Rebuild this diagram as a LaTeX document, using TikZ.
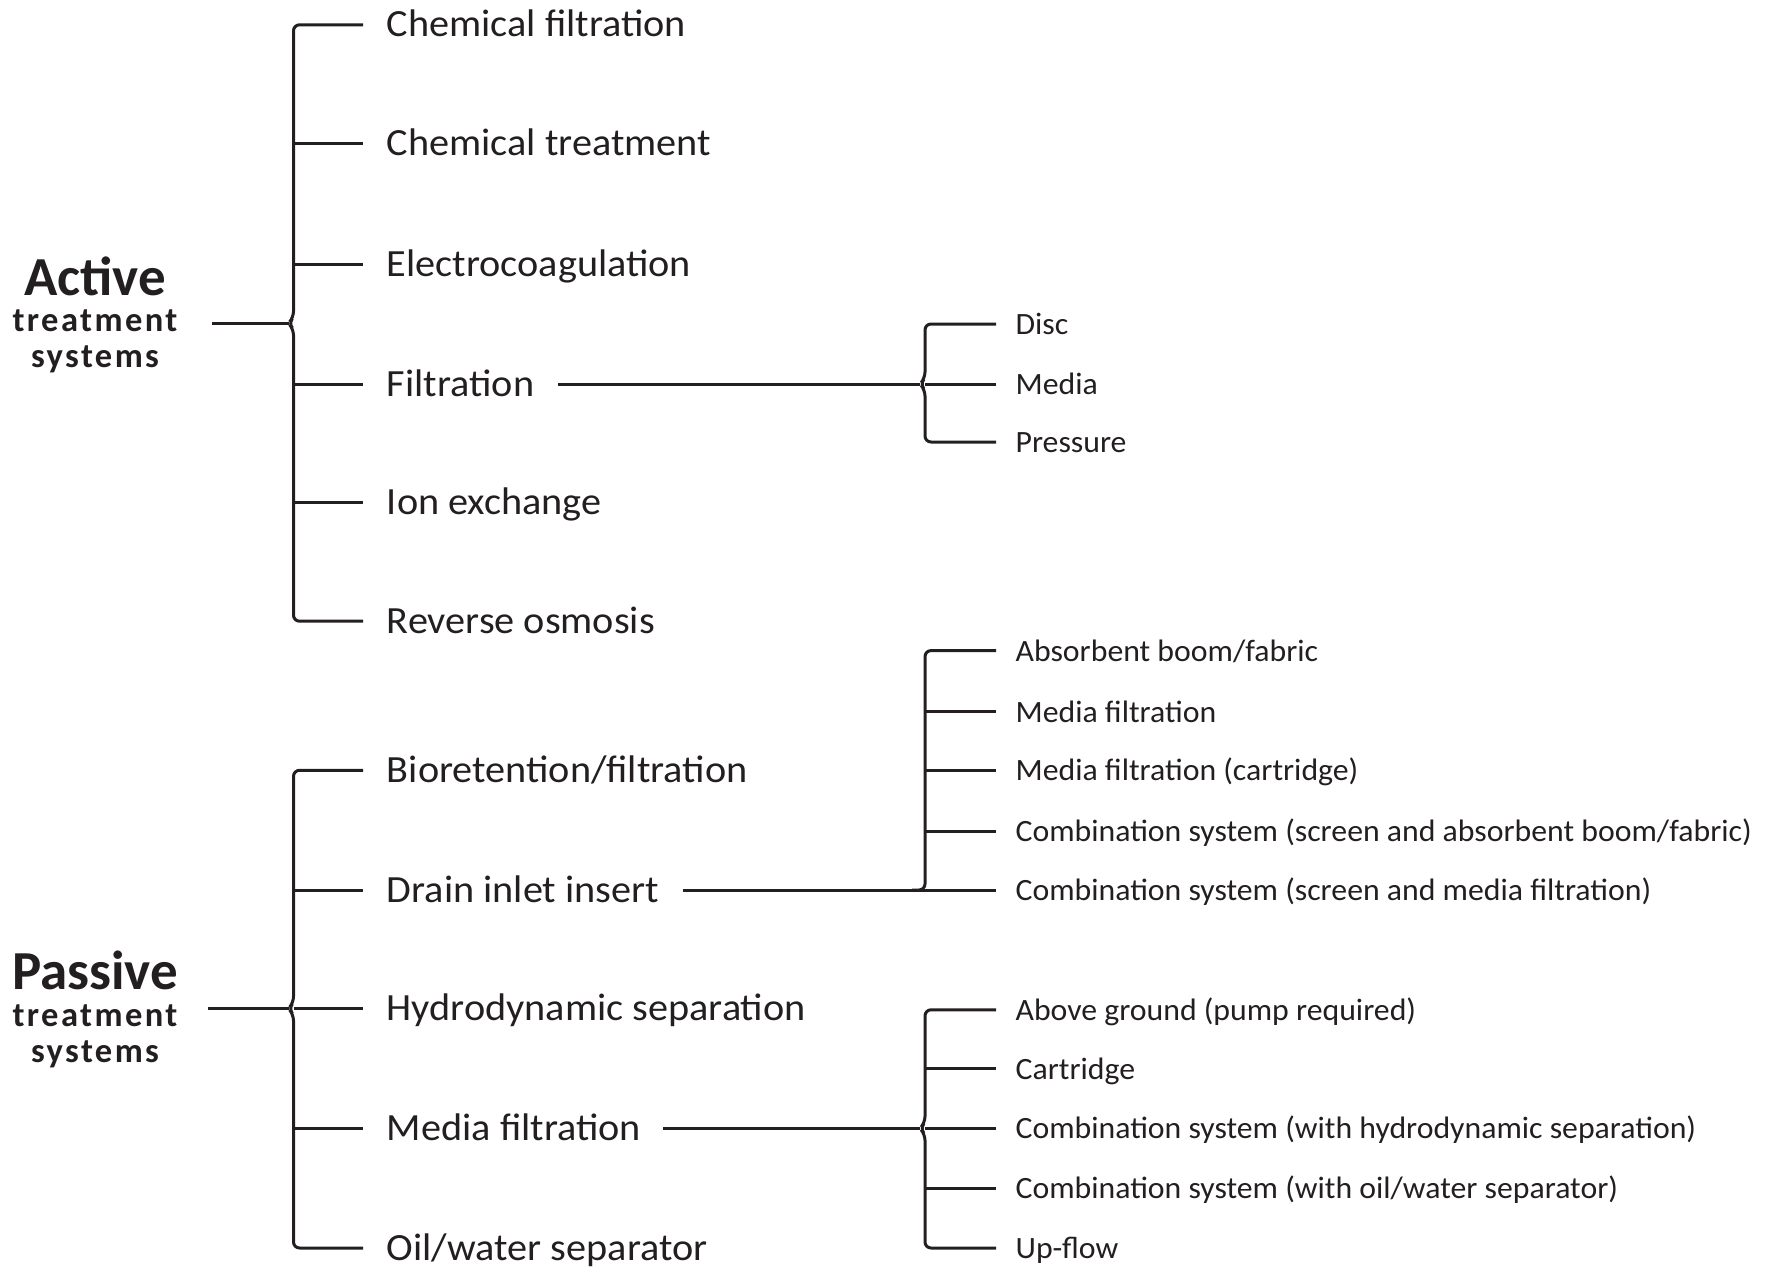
\documentclass[tikz,border=0pt]{standalone}
\usepackage{fontspec}
\setmainfont{Carlito}
\definecolor{ink}{RGB}{35,31,32}
\tikzset{
  ln/.style={draw=ink, line width=3pt},
  brk/.style={ln, rounded corners=6pt},
  mainitem/.style={anchor=base west, inner sep=0pt, text=ink, font=\fontsize{38.5}{46}\selectfont\addfontfeature{FakeStretch=1.045}},
  subitem/.style={anchor=base west, inner sep=0pt, text=ink, font=\fontsize{31}{37}\selectfont\addfontfeature{FakeStretch=1.025}},
  roottitle/.style={anchor=base, inner sep=0pt, text=ink, font=\fontsize{55}{60}\selectfont\bfseries},
  rootsub/.style={anchor=base, inner sep=0pt, text=ink, font=\fontsize{34.5}{40}\selectfont\bfseries\addfontfeature{LetterSpace=7}},
}
\begin{document}
\begin{tikzpicture}[x=1pt,y=-1pt]
\useasboundingbox (0,0) rectangle (1771,1268);
% ---------- roots
\node[roottitle] (activeT) at (95,295) {Active};
\node[rootsub] (activeM) at (95,331.7) {treatment};
\node[rootsub] (activeB) at (95,367.5) {systems};
\node[roottitle] (passiveT) at (95,989.5) {Passive};
\node[rootsub] (passiveM) at (95,1026) {treatment};
\node[rootsub] (passiveB) at (95,1062) {systems};
% ---------- active items
\node[mainitem] (ai1) at (386.7,36.8) {Chemical filtration};
\node[mainitem] (ai2) at (386.7,155.4) {Chemical treatment};
\node[mainitem] (ai3) at (386.7,276.3) {Electrocoagulation};
\node[mainitem] (ai4) at (386.7,396) {Filtration};
\node[mainitem] (ai5) at (386.7,514.6) {Ion exchange};
\node[mainitem] (ai6) at (386.7,633.2) {Reverse osmosis};
% ---------- passive items
\node[mainitem] (pi1) at (386.7,782.3) {Bioretention/filtration};
\node[mainitem] (pi2) at (386.7,902) {Drain inlet insert};
\node[mainitem] (pi3) at (386.7,1020.6) {Hydrodynamic separation};
\node[mainitem] (pi4) at (386.7,1140.4) {Media filtration};
\node[mainitem] (pi5) at (386.7,1260) {Oil/water separator};
% ---------- filtration subs
\node[subitem] (f1) at (1015.4,334.5) {Disc};
\node[subitem] (f2) at (1015.4,394.5) {Media};
\node[subitem] (f3) at (1015.4,452.5) {Pressure};
% ---------- drain inlet subs
\node[subitem] (d1) at (1015.4,661.1) {Absorbent boom/fabric};
\node[subitem] (d2) at (1015.4,722.1) {Media filtration};
\node[subitem] (d3) at (1015.4,780.8) {Media filtration (cartridge)};
\node[subitem] (d4) at (1015.4,841.8) {Combination system (screen and absorbent boom/fabric)};
\node[subitem] (d5) at (1015.4,900.5) {Combination system (screen and media filtration)};
% ---------- media filtration subs
\node[subitem] (m1) at (1015.4,1020.3) {Above ground (pump required)};
\node[subitem] (m2) at (1015.4,1079) {Cartridge};
\node[subitem] (m3) at (1015.4,1138.9) {Combination system (with hydrodynamic separation)};
\node[subitem] (m4) at (1015.4,1198.8) {Combination system (with oil/water separator)};
\node[subitem] (m5) at (1015.4,1258.5) {Up-flow};

% ---------- junction coordinates
\coordinate (aj) at (288.5,323.3);
\coordinate (pj) at (288.5,1008.6);
\coordinate (fj) at (920,384);
\coordinate (dj) at (925,890);
\coordinate (mj) at (920,1128.4);

% ---------- active bracket
\draw[brk] (363,24.8) -- (293.5,24.8) -- (293.5,317.3) -- (aj) -- (293.5,329.3) -- (293.5,621.2) -- (363,621.2);
\foreach \y in {143.4,264.3,384,502.6} \draw[ln] (293.5,\y) -- (363,\y);
\draw[ln] ([xshift=34pt]activeM.east |- aj) -- (aj);

% ---------- passive bracket
\draw[brk] (363,770.3) -- (293.5,770.3) -- (293.5,1002.6) -- (pj) -- (293.5,1014.6) -- (293.5,1248) -- (363,1248);
\foreach \y in {890,1008.6,1128.4} \draw[ln] (293.5,\y) -- (363,\y);
\draw[ln] ([xshift=30pt]passiveM.east |- pj) -- (pj);

% ---------- filtration sub-bracket
\draw[brk] (996,324) -- (925,324) -- (925,378) -- (fj) -- (925,390) -- (925,442) -- (996,442);
\draw[ln] (925,384) -- (996,384);
\draw[ln] ([xshift=24pt]ai4.east |- fj) -- (fj);

% ---------- drain inlet sub-bracket
\draw[brk] (996,650.6) -- (925,650.6) -- (dj) -- (912,890);
\foreach \y in {711.6,770.3,831.3} \draw[ln] (925,\y) -- (996,\y);
\draw[ln] ([xshift=24pt]pi2.east |- dj) -- (996,890);

% ---------- media filtration sub-bracket
\draw[brk] (996,1009.8) -- (925,1009.8) -- (925,1122.4) -- (mj) -- (925,1134.4) -- (925,1248) -- (996,1248);
\foreach \y in {1068.5,1128.4,1188.3} \draw[ln] (925,\y) -- (996,\y);
\draw[ln] ([xshift=22pt]pi4.east |- mj) -- (mj);
\end{tikzpicture}
\end{document}
